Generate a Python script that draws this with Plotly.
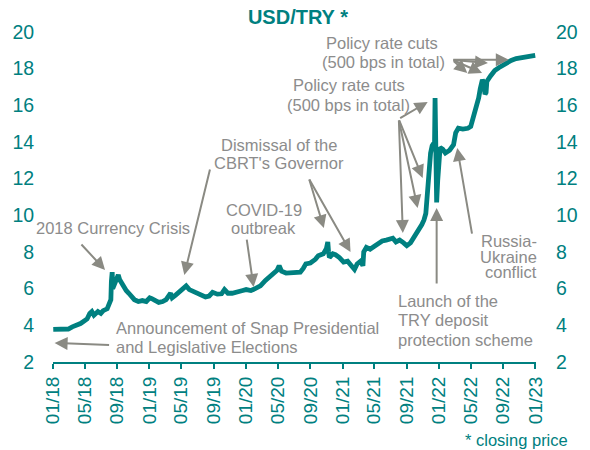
import plotly.graph_objects as go

# ---------------- data ----------------
dates = [
    "2018-01-02", "2018-01-20", "2018-02-10", "2018-02-28", "2018-03-15", "2018-04-01",
    "2018-04-15", "2018-04-25", "2018-05-10", "2018-05-20", "2018-05-28", "2018-06-05",
    "2018-06-20", "2018-07-01", "2018-07-10", "2018-07-25", "2018-08-05", "2018-08-08",
    "2018-08-10", "2018-08-13", "2018-08-15", "2018-08-22", "2018-08-31", "2018-09-05",
    "2018-09-10", "2018-09-17", "2018-09-25", "2018-10-05", "2018-10-15", "2018-10-25",
    "2018-11-05", "2018-11-20", "2018-12-05", "2018-12-20", "2019-01-02", "2019-01-10",
    "2019-01-25", "2019-02-05", "2019-02-20", "2019-03-05", "2019-03-22", "2019-03-28",
    "2019-04-10", "2019-04-25", "2019-05-10", "2019-05-20", "2019-06-01", "2019-06-15",
    "2019-07-01", "2019-07-15", "2019-08-01", "2019-08-15", "2019-08-28", "2019-09-15",
    "2019-10-01", "2019-10-12", "2019-10-25", "2019-11-10", "2019-12-01", "2019-12-20",
    "2020-01-02", "2020-01-20", "2020-02-05", "2020-02-25", "2020-03-15", "2020-03-31",
    "2020-04-15", "2020-04-28", "2020-05-06", "2020-05-15", "2020-06-01", "2020-06-20",
    "2020-07-10", "2020-07-25", "2020-08-05", "2020-08-15", "2020-09-01", "2020-09-20",
    "2020-10-01", "2020-10-20", "2020-11-01", "2020-11-06", "2020-11-09", "2020-11-12",
    "2020-11-25", "2020-12-05", "2020-12-20", "2021-01-05", "2021-01-20", "2021-02-05",
    "2021-02-15", "2021-02-25", "2021-03-10", "2021-03-19", "2021-03-22", "2021-04-01",
    "2021-04-15", "2021-04-30", "2021-05-15", "2021-05-31", "2021-06-15", "2021-06-25",
    "2021-07-10", "2021-07-22", "2021-08-05", "2021-08-20", "2021-09-01", "2021-09-15",
    "2021-10-01", "2021-10-15", "2021-10-28", "2021-11-05", "2021-11-12", "2021-11-18",
    "2021-11-24", "2021-11-30", "2021-12-06", "2021-12-10", "2021-12-15", "2021-12-17",
    "2021-12-20", "2021-12-22", "2021-12-23", "2021-12-27", "2021-12-31", "2022-01-05",
    "2022-01-15", "2022-01-25", "2022-02-10", "2022-02-25", "2022-03-05", "2022-03-15",
    "2022-04-01", "2022-04-20", "2022-05-01", "2022-05-10", "2022-05-20", "2022-05-31",
    "2022-06-06", "2022-06-10", "2022-06-14", "2022-06-20", "2022-06-24", "2022-06-28",
    "2022-07-01", "2022-07-15", "2022-07-31", "2022-08-15", "2022-08-31", "2022-09-15",
    "2022-10-01", "2022-10-20", "2022-11-10", "2022-11-25", "2022-12-10", "2022-12-31",
]
usdtry = [
    3.78, 3.80, 3.78, 3.80, 3.92, 4.00,
    4.10, 4.20, 4.35, 4.65, 4.75, 4.55,
    4.75, 4.65, 4.80, 4.90, 5.20, 5.40,
    6.40, 6.90, 6.00, 6.30, 6.55, 6.75,
    6.50, 6.30, 6.10, 5.90, 5.75, 5.60,
    5.40, 5.30, 5.35, 5.30, 5.50, 5.45,
    5.30, 5.25, 5.30, 5.40, 5.75, 5.50,
    5.65, 5.85, 6.10, 6.15, 5.95, 5.85,
    5.80, 5.65, 5.55, 5.60, 5.80, 5.70,
    5.72, 5.95, 5.75, 5.75, 5.80, 5.90,
    5.95, 5.90, 6.00, 6.15, 6.45, 6.65,
    6.90, 7.00, 7.25, 6.95, 6.85, 6.85,
    6.85, 6.90, 7.10, 7.35, 7.40, 7.60,
    7.80, 7.90, 8.20, 8.55, 8.00, 7.70,
    7.90, 7.85, 7.70, 7.45, 7.50, 7.20,
    7.05, 7.35, 7.50, 7.25, 8.00, 8.25,
    8.15, 8.30, 8.45, 8.60, 8.65, 8.70,
    8.75, 8.55, 8.65, 8.50, 8.35, 8.50,
    8.85, 9.20, 9.50, 9.75, 10.10, 11.20,
    12.50, 13.40, 13.80, 13.90, 14.00, 16.40,
    12.90, 11.30, 10.70, 11.90, 13.30, 13.70,
    13.60, 13.40, 13.55, 13.85, 14.50, 14.75,
    14.70, 14.75, 14.85, 15.30, 15.80, 16.40,
    16.90, 17.30, 17.40, 17.20, 16.60, 16.70,
    17.30, 17.60, 17.90, 18.05, 18.20, 18.30,
    18.45, 18.55, 18.60, 18.62, 18.65, 18.72,
]
y_ticks = [2, 4, 6, 8, 10, 12, 14, 16, 18, 20]

TEAL = "#008080"
GREY_TXT = "#8C8C8C"
GREY_ARR = "#8A8A83"
FONT = "Liberation Sans, Arial, sans-serif"

fig = go.Figure()
fig.add_trace(go.Scatter(x=dates, y=usdtry, mode="lines",
                         line=dict(color=TEAL, width=4.8), hoverinfo="x+y",
                         showlegend=False))
# invisible copy to activate the right-hand axis
fig.add_trace(go.Scatter(x=dates, y=usdtry, mode="lines", yaxis="y2",
                         line=dict(color="rgba(0,0,0,0)", width=0),
                         hoverinfo="skip", showlegend=False))

axis_font = dict(family=FONT, size=19.5, color=TEAL)
fig.update_layout(
    width=590, height=450,
    margin=dict(l=49, r=53, t=32, b=88),
    paper_bgcolor="white", plot_bgcolor="white",
    font=dict(family=FONT),
    title=dict(text="<b>USD/TRY *</b>", x=0.505, xanchor="center", y=0.962,
               yanchor="middle", font=dict(family=FONT, size=20, color=TEAL)),
    xaxis=dict(type="date", range=["2018-01-01", "2023-01-03"],
               tick0="2018-01-01", dtick="M4", tickformat="%m/%y", tickangle=-90,
               showgrid=False, zeroline=False,
               showline=True, linecolor=TEAL, linewidth=2,
               ticks="outside", ticklen=5, tickwidth=2, tickcolor=TEAL,
               tickfont=dict(family=FONT, size=19, color=TEAL)),
    yaxis=dict(range=[2, 20], tickvals=y_ticks, showgrid=False, zeroline=False,
               showline=False, ticks="outside", ticklen=14,
               tickcolor="rgba(0,0,0,0)", tickfont=axis_font),
    yaxis2=dict(range=[2, 20], tickvals=y_ticks, overlaying="y", side="right",
                showgrid=False, zeroline=False, showline=False, ticks="outside",
                ticklen=15, tickcolor="rgba(0,0,0,0)", tickfont=axis_font),
)

# ---------------- text labels (paper coordinates) ----------------
def label(text, x, y, xanchor="center", color=GREY_TXT, size=16.5):
    fig.add_annotation(text=text, x=x, y=y, xref="paper", yref="paper",
                       xanchor=xanchor, yanchor="middle", showarrow=False,
                       font=dict(family=FONT, size=size, color=color))

label("2018 Currency Crisis", 0.1245, 0.406)
label("Dismissal of the", 0.467, 0.658)
label("CBRT's Governor", 0.467, 0.603)
label("COVID-19", 0.436, 0.461)
label("outbreak", 0.436, 0.406)
label("Policy rate cuts", 0.6124, 0.839)
label("(500 bps in total)", 0.6124, 0.779)
label("Policy rate cuts", 0.682, 0.967)
label("(500 bps in total)", 0.684, 0.909)
label("Launch of the", 0.711, 0.185, "left")
label("TRY deposit", 0.711, 0.127, "left")
label("protection scheme", 0.711, 0.0667, "left")
label("Russia-", 1.0062, 0.366, "right")
label("Ukraine", 1.0062, 0.318, "right")
label("conflict", 1.0062, 0.273, "right")
label("Announcement of Snap Presidential", 0.1266, 0.103, "left")
label("and Legislative Elections", 0.1266, 0.0455, "left")
label("* closing price", 1.0697, -0.236, "right", color=TEAL, size=16.5)

# ---------------- arrows (head in data coords, tail as pixel offset) ----------------
def arrow(x, y, ax, ay):
    fig.add_annotation(text="", x=x, y=y, xref="x", yref="y", ax=ax, ay=ay,
                       showarrow=True, arrowhead=2, arrowsize=1.3, arrowwidth=2,
                       arrowcolor=GREY_ARR)

arrow("2018-07-17", 7.02, -25, -27)          # 2018 currency crisis
arrow("2019-05-13", 6.75, 26, -107)          # dismissal 1
arrow("2020-10-22", 9.31, -15, -50)          # dismissal 2
arrow("2021-01-31", 8.00, -42, -74)          # dismissal 3
arrow("2020-01-30", 6.09, -7, -49)           # covid
arrow("2021-11-19", 16.18, -29, 17)          # policy cuts (lower)
arrow("2021-10-31", 12.04, -24, -59)
arrow("2021-10-12", 10.40, -19, -89)
arrow("2021-08-17", 9.04, -4, -114)
arrow("2021-12-23", 10.40, 0, 77)            # TRY deposit scheme
arrow("2022-03-11", 13.67, 15, 87)           # Russia-Ukraine
arrow("2022-09-22", 18.48, -57, 0)           # policy cuts (upper)
arrow("2022-07-05", 18.31, -36, -3)
arrow("2022-06-13", 17.77, -30, -13)
arrow("2022-04-18", 17.77, -15, -13)
arrow("2018-01-07", 3.04, 56, 2)             # snap elections

fig.write_html("out.html",
               config={"displayModeBar": False},
               post_script="document.body.style.margin='0';"
                           "document.body.style.padding='0';")
